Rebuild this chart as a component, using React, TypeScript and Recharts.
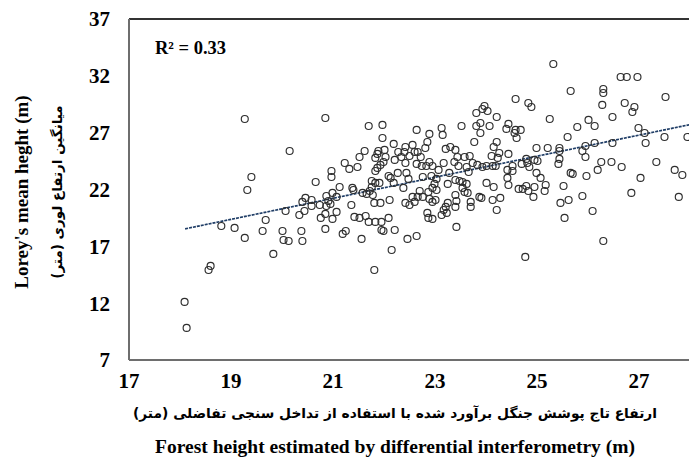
import React from "react";
import { ScatterChart, Scatter, XAxis, YAxis, ReferenceLine } from "recharts";

// axis ticks
const xTicks = [17, 19, 21, 23, 25, 27];
const yTicks = [7, 12, 17, 22, 27, 32, 37];

// [forest height by DInSAR, Lorey's mean height]
const plots: [number, number][] = [
  [18.09, 12.11], [18.13, 9.82], [18.56, 14.92], [18.6, 15.28], [18.81, 18.79],
  [19.07, 18.62], [19.27, 17.74], [19.32, 21.96], [19.27, 28.2], [19.4, 23.1],
  [20.85, 28.29], [20.15, 25.39], [19.68, 19.32], [19.62, 18.35], [19.83, 16.33],
  [20.07, 20.11], [20.01, 18.35], [20.03, 17.56], [20.13, 17.47], [20.38, 18.35],
  [20.4, 17.47], [20.34, 19.76], [20.44, 20.11], [20.4, 20.91], [20.46, 21.26],
  [20.58, 21.08], [20.58, 20.55], [20.66, 22.66], [20.74, 20.64], [20.76, 19.5],
  [20.87, 21.43], [20.91, 20.99], [20.87, 20.55], [20.85, 19.85], [20.85, 18.53],
  [20.99, 19.41], [21.07, 20.03], [21.13, 22.22], [20.97, 23.63], [20.97, 23.1],
  [20.99, 21.7], [21.07, 21.35], [20.95, 20.73], [21.19, 18.09], [21.25, 18.35],
  [21.7, 27.59], [21.97, 27.68], [21.97, 26.53], [22.19, 26.01], [22.64, 27.24],
  [21.62, 25.39], [21.52, 24.86], [21.23, 24.33], [21.32, 23.81], [21.48, 23.98],
  [21.83, 24.78], [21.87, 25.13], [21.89, 25.39], [22.01, 25.48], [22.03, 24.86],
  [21.99, 24.42], [21.93, 24.16], [21.87, 23.9], [21.83, 23.63], [22.21, 24.6],
  [22.28, 25.3], [22.34, 24.86], [22.4, 25.3], [22.42, 25.74], [22.5, 24.95],
  [22.56, 25.92], [22.6, 25.3], [22.66, 25.3], [22.72, 24.86], [22.64, 24.25],
  [22.74, 24.07], [22.42, 24.33], [22.09, 23.19], [22.13, 23.02], [22.27, 23.46],
  [22.19, 22.58], [22.44, 23.46], [22.48, 22.93], [22.38, 22.14], [22.7, 21.87],
  [22.66, 21.35], [22.56, 21.35], [22.6, 20.91], [22.5, 20.64], [22.42, 20.82],
  [22.76, 21.35], [22.76, 23.1], [21.76, 22.75], [21.76, 22.22], [21.72, 21.87],
  [21.78, 21.52], [21.83, 22.58], [21.91, 22.58], [21.66, 21.61], [21.58, 21.7],
  [21.38, 22.14], [21.4, 21.96], [21.36, 20.64], [21.42, 19.59], [21.52, 19.5],
  [21.64, 19.67], [21.7, 19.15], [21.83, 19.15], [21.95, 19.15], [22.09, 19.5],
  [21.81, 20.82], [21.93, 20.82], [22.11, 21.08], [21.95, 18.44], [21.99, 18.35],
  [22.21, 18.44], [22.46, 17.65], [22.64, 17.91], [21.56, 17.65], [22.15, 16.68],
  [21.81, 14.92],
  [23.97, 29.35], [23.93, 29.08], [24.03, 28.91], [23.81, 28.73], [24.21, 28.38],
  [23.52, 27.59], [23.81, 27.59], [23.89, 27.85], [23.89, 26.97], [24.07, 27.59],
  [24.44, 27.77], [24.4, 27.33], [24.58, 29.96], [23.13, 27.41], [23.15, 26.8],
  [22.89, 26.89], [22.85, 26.18], [22.81, 25.65], [23.21, 25.57], [23.3, 25.74],
  [23.4, 25.48], [23.44, 24.86], [23.38, 24.42], [23.58, 24.86], [23.68, 24.95],
  [23.77, 26.18], [24.11, 24.95], [24.15, 25.74], [24.21, 26.18], [24.26, 25.21],
  [24.23, 24.78], [24.44, 25.13], [22.83, 24.07], [22.95, 24.07], [22.89, 24.42],
  [23.07, 23.72], [23.17, 24.33], [23.46, 24.07], [23.62, 23.98], [23.66, 23.54],
  [23.74, 24.33], [23.83, 24.16], [23.93, 23.98], [24.01, 24.07], [24.13, 24.07],
  [24.19, 24.07], [24.42, 23.72], [24.52, 24.07], [24.52, 23.63], [22.93, 23.19],
  [23.03, 22.93], [23.28, 23.46], [23.4, 22.84], [23.48, 22.75], [23.54, 22.66],
  [23.25, 22.49], [22.99, 22.49], [22.95, 22.14], [23.03, 21.96], [22.87, 21.78],
  [22.89, 21.17], [22.95, 20.91], [23.01, 21.08], [23.54, 22.14], [23.58, 21.78],
  [23.64, 21.7], [23.62, 22.49], [24.01, 22.58], [24.15, 22.22], [24.42, 23.02],
  [24.44, 22.4], [23.87, 21.35], [23.91, 21.26], [24.13, 21.08], [24.28, 21.26],
  [24.21, 20.2], [23.4, 21.52], [23.42, 20.99], [23.4, 20.47], [23.21, 20.47],
  [23.17, 20.2], [23.25, 20.82], [23.13, 19.76], [23.23, 19.94], [23.7, 20.91],
  [23.7, 20.47], [22.85, 19.94], [22.87, 19.5], [22.95, 19.41], [23.42, 18.71],
  [25.32, 33.04], [25.66, 30.67], [24.83, 29.61], [24.89, 29.26], [25.25, 28.2],
  [26.01, 28.12], [26.13, 27.59], [25.79, 27.5], [26.28, 29.44], [24.58, 27.24],
  [24.68, 27.24], [24.56, 26.97], [24.6, 26.53], [25.6, 26.62], [24.99, 25.65],
  [25.21, 25.65], [25.44, 25.65], [25.44, 25.39], [25.95, 25.83], [26.13, 26.09],
  [25.89, 25.39], [25.95, 24.86], [26.26, 24.42], [26.19, 23.72], [25.97, 23.19],
  [25.44, 24.69], [25.42, 24.25], [25.66, 23.46], [25.7, 23.37], [24.95, 24.6],
  [25.01, 24.51], [24.79, 24.69], [24.81, 24.33], [24.85, 23.98], [24.7, 24.25],
  [24.99, 23.46], [25.07, 23.02], [24.64, 22.05], [24.72, 22.05], [24.79, 22.31],
  [24.83, 21.87], [24.95, 22.22], [24.93, 21.35], [25.15, 21.87], [25.17, 22.4],
  [25.52, 22.31], [25.46, 20.82], [25.62, 21.08], [25.89, 21.43], [26.09, 20.11],
  [25.54, 19.5], [26.3, 17.47], [24.77, 16.07],
  [26.64, 31.9], [26.76, 31.9], [26.97, 31.9], [26.3, 30.84], [26.3, 30.49],
  [27.52, 30.14], [26.72, 29.61], [26.91, 29.26], [26.87, 28.82], [26.48, 28.38],
  [26.99, 27.41], [27.11, 26.97], [27.5, 26.62], [27.95, 26.62], [26.48, 26.09],
  [27.13, 26.09], [26.46, 24.42], [26.66, 23.98], [27.34, 24.42], [27.7, 23.72],
  [27.85, 23.28], [27.03, 23.02], [26.85, 21.7], [27.78, 21.35],
];

// linear fit drawn across the data
const trendLine = [
  { x: 18.1, y: 18.54 },
  { x: 28, y: 27.71 },
];

const rSquared = "R² = 0.33";

const data = plots.map(([x, y]) => ({ x, y }));

const serif = "'Liberation Serif', 'Times New Roman', serif";
const tickStyle = { fill: "#000", fontSize: 21, fontWeight: 700, fontFamily: serif };

// open ring marker
const Ring = (props: any) => (
  <circle cx={props.cx} cy={props.cy} r={3.5} fill="none" stroke="#2e2e2e" strokeWidth={1.15} />
);

export default function App() {
  return (
    <div
      style={{
        position: "absolute",
        left: 0,
        top: 0,
        width: 689,
        height: 463,
        overflow: "hidden",
        background: "#fff",
      }}
    >
      <ScatterChart width={700} height={463} margin={{ top: 19, right: 10, bottom: 0, left: 0 }}>
        <XAxis
          type="number"
          dataKey="x"
          domain={[17, 28]}
          ticks={xTicks}
          allowDataOverflow
          height={103}
          tickLine={false}
          tickSize={0}
          tickMargin={13}
          axisLine={{ stroke: "#6e6e6e", strokeWidth: 2 }}
          tick={tickStyle}
        />
        <YAxis
          type="number"
          dataKey="y"
          domain={[7, 37]}
          ticks={yTicks}
          width={129}
          tickLine={false}
          tickSize={0}
          tickMargin={19}
          axisLine={{ stroke: "#6e6e6e", strokeWidth: 2 }}
          tick={tickStyle}
        />
        <ReferenceLine y={37} stroke="#333" strokeWidth={2} />
        <Scatter data={data} shape={Ring} isAnimationActive={false} />
        <ReferenceLine segment={trendLine} stroke="#1f3d66" strokeWidth={1.7} strokeDasharray="3 1" />
      </ScatterChart>

      <div
        style={{
          position: "absolute",
          left: 155,
          top: 38,
          fontFamily: serif,
          fontWeight: 700,
          fontSize: 18.5,
          color: "#000",
        }}
      >
        {rSquared}
      </div>

      {/* y axis titles */}
      <div
        style={{
          position: "absolute",
          left: 22,
          top: 192,
          transform: "translate(-50%, -50%) rotate(-90deg)",
          whiteSpace: "nowrap",
          fontFamily: serif,
          fontWeight: 700,
          fontSize: 19,
        }}
      >
        Lorey's mean heght (m)
      </div>
      <div
        style={{
          position: "absolute",
          left: 57,
          top: 192,
          transform: "translate(-50%, -50%) rotate(-90deg)",
          whiteSpace: "nowrap",
          fontFamily: "'DejaVu Sans', sans-serif",
          fontWeight: 700,
          fontSize: 13.5,
          direction: "rtl",
        }}
      >
        میانگین ارتفاع لوری (متر)
      </div>

      {/* x axis titles */}
      <div
        style={{
          position: "absolute",
          left: 395,
          top: 413,
          transform: "translate(-50%, -50%)",
          whiteSpace: "nowrap",
          fontFamily: "'DejaVu Sans', sans-serif",
          fontWeight: 700,
          fontSize: 13.8,
          direction: "rtl",
        }}
      >
        ارتفاع تاج پوشش جنگل برآورد شده با استفاده از تداخل سنجی تفاضلی (متر)
      </div>
      <div
        style={{
          position: "absolute",
          left: 395,
          top: 447,
          transform: "translate(-50%, -50%)",
          whiteSpace: "nowrap",
          fontFamily: serif,
          fontWeight: 700,
          fontSize: 19.5,
        }}
      >
        Forest height estimated by differential interferometry (m)
      </div>
    </div>
  );
}
